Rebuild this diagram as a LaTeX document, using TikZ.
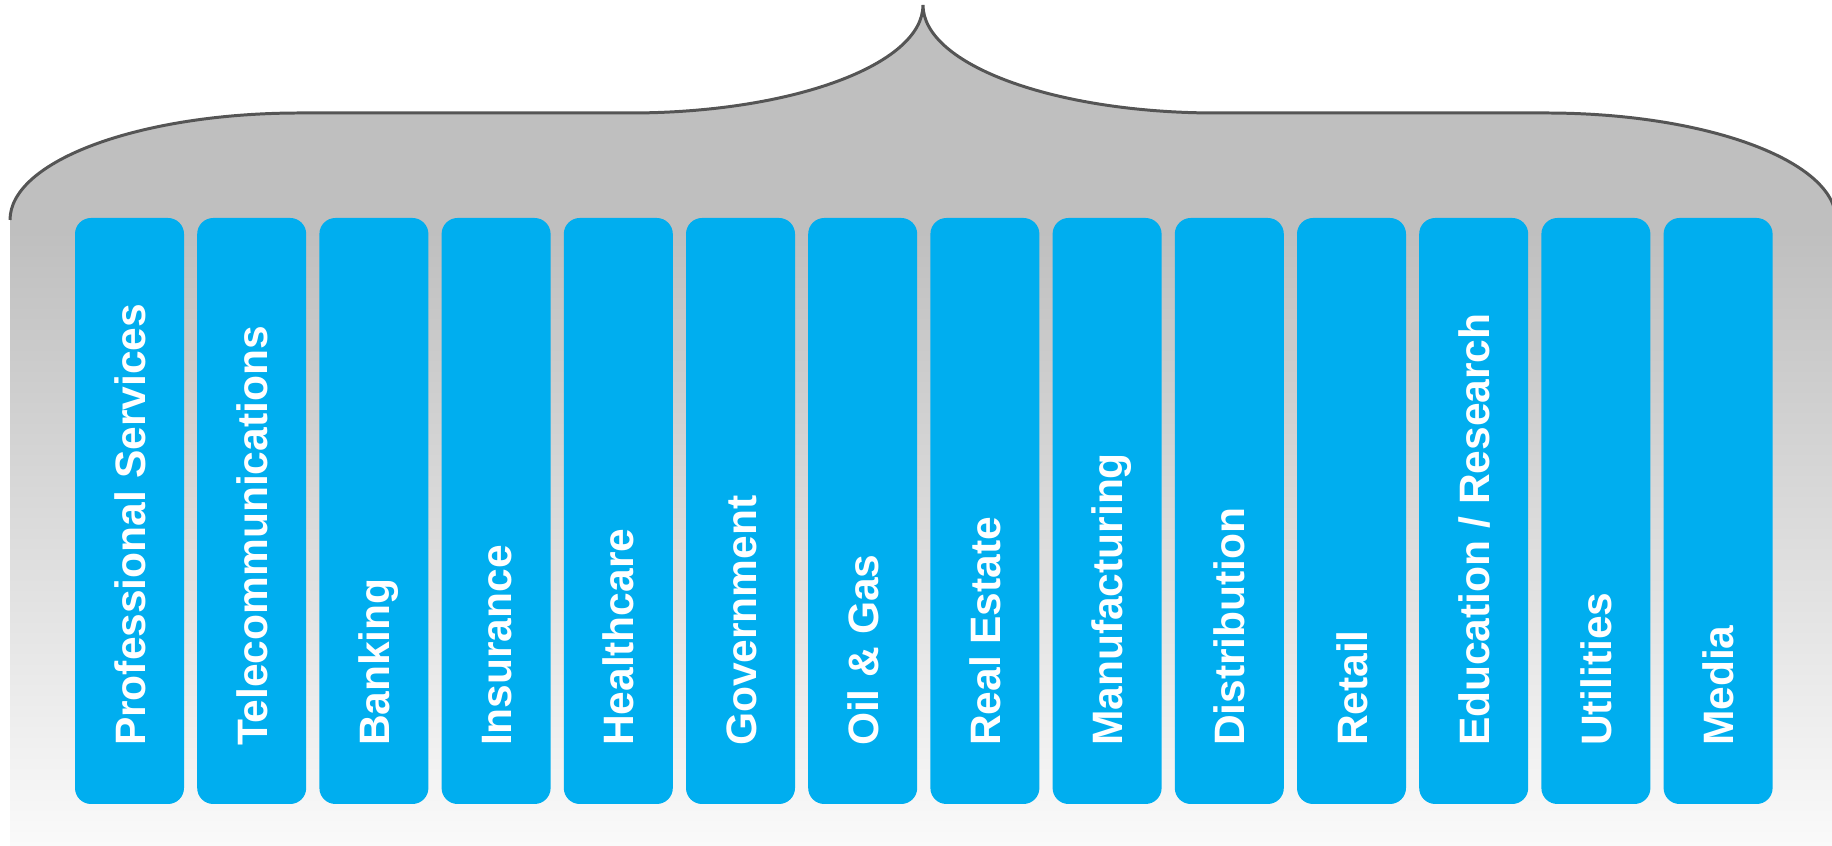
\documentclass[tikz,border=0pt]{standalone}
\usepackage{fontspec}
\setmainfont{Liberation Sans}
\definecolor{bracegray}{HTML}{BFBFBF}
\definecolor{braceline}{HTML}{555555}
\definecolor{sectorblue}{HTML}{00AEEF}
\begin{document}
\begin{tikzpicture}[
	sector/.style={fill=sectorblue, rounded corners=0.16cm, minimum width=1.09cm, minimum height=5.86cm, inner sep=0pt},
	sectortext/.style={rotate=90, anchor=base west, text=white, inner sep=0pt, font=\fontsize{12.1}{14}\selectfont\bfseries}
	]
	
	\useasboundingbox (0,0) rectangle (18.32,8.46);
	
	% the brace
	\fill [bracegray] (0.10,0) -- (0.10,6.26) arc [start angle=180, end angle=90, x radius=2.9, y radius=1.07] -- (6.30,7.33) arc [start angle=270, end angle=360, x radius=2.93, y radius=1.08] arc [start angle=180, end angle=270, x radius=2.93, y radius=1.08] -- (15.46,7.33) arc [start angle=90, end angle=0, x radius=2.9, y radius=1.07] -- (18.36,0) -- cycle;
	
	\shade [top color=bracegray, bottom color=white!98!black] (0.10,0) rectangle (18.36,6.16);
	
	\draw [line width=0.85pt, braceline] (0.10,6.26) arc [start angle=180, end angle=90, x radius=2.9, y radius=1.07] -- (6.30,7.33) arc [start angle=270, end angle=360, x radius=2.93, y radius=1.08] arc [start angle=180, end angle=270, x radius=2.93, y radius=1.08] -- (15.46,7.33) arc [start angle=90, end angle=0, x radius=2.9, y radius=1.07];
	
	% the sectors
	\node [sector] (prof) at (1.295,3.35) {};
	\node [sectortext] at ([xshift=0.155cm, yshift=0.58cm]prof.south) {Professional Services};
	
	\node [sector] (telco) at (2.517,3.35) {};
	\node [sectortext] at ([xshift=0.155cm, yshift=0.58cm]telco.south) {Telecommunications};
	
	\node [sector] (bank) at (3.739,3.35) {};
	\node [sectortext] at ([xshift=0.155cm, yshift=0.58cm]bank.south) {Banking};
	
	\node [sector] (insur) at (4.961,3.35) {};
	\node [sectortext] at ([xshift=0.155cm, yshift=0.58cm]insur.south) {Insurance};
	
	\node [sector] (health) at (6.183,3.35) {};
	\node [sectortext] at ([xshift=0.155cm, yshift=0.58cm]health.south) {Healthcare};
	
	\node [sector] (gov) at (7.405,3.35) {};
	\node [sectortext] at ([xshift=0.155cm, yshift=0.58cm]gov.south) {Government};
	
	\node [sector] (oil) at (8.627,3.35) {};
	\node [sectortext] at ([xshift=0.155cm, yshift=0.58cm]oil.south) {Oil \& Gas};
	
	\node [sector] (estate) at (9.849,3.35) {};
	\node [sectortext] at ([xshift=0.155cm, yshift=0.58cm]estate.south) {Real Estate};
	
	\node [sector] (manuf) at (11.071,3.35) {};
	\node [sectortext] at ([xshift=0.155cm, yshift=0.58cm]manuf.south) {Manufacturing};
	
	\node [sector] (distr) at (12.293,3.35) {};
	\node [sectortext] at ([xshift=0.155cm, yshift=0.58cm]distr.south) {Distribution};
	
	\node [sector] (retail) at (13.515,3.35) {};
	\node [sectortext] at ([xshift=0.155cm, yshift=0.58cm]retail.south) {Retail};
	
	\node [sector] (edu) at (14.737,3.35) {};
	\node [sectortext] at ([xshift=0.155cm, yshift=0.58cm]edu.south) {Education / Research};
	
	\node [sector] (util) at (15.959,3.35) {};
	\node [sectortext] at ([xshift=0.155cm, yshift=0.58cm]util.south) {Utilities};
	
	\node [sector] (media) at (17.181,3.35) {};
	\node [sectortext] at ([xshift=0.155cm, yshift=0.58cm]media.south) {Media};
	
\end{tikzpicture}
\end{document}
